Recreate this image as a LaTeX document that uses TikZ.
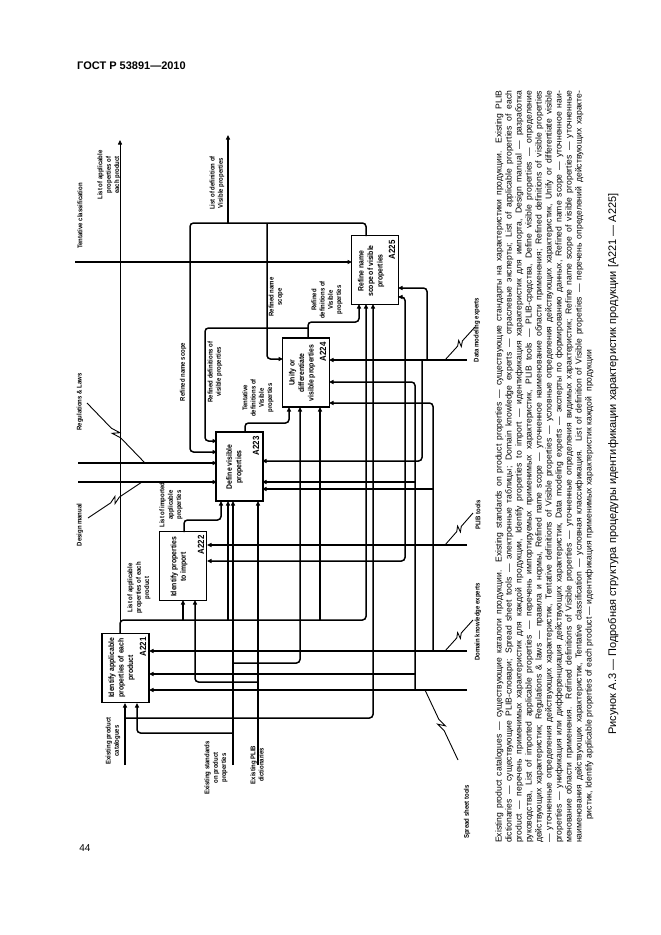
\documentclass[tikz,border=0pt]{standalone}
\usepackage{fontspec}
\setmainfont{Liberation Sans}
\newfontfamily\lblfont[FakeStretch=0.88]{Liberation Sans}
\usetikzlibrary{arrows.meta,calc}
\newcommand{\lgline}[1]{\makebox[752pt][s]{#1}}
\newcommand{\sqgl}[2]{\draw[conn] (#1) -- ($(#1)!0.42!(#2)$) -- ($(#1)!0.53!(#2)!3pt!90:(#2)$) -- ($(#1)!0.47!(#2)!3pt!-90:(#2)$) -- ($(#1)!0.58!(#2)$) -- (#2);}
\begin{document}
\begin{tikzpicture}[x=1pt,y=-1pt,
  flow/.style={line width=1.5pt, rounded corners=3.5pt},
  arr/.style={flow, -{Triangle[length=4.5pt,width=4pt]}},
  thinarr/.style={line width=0.8pt, -{Triangle[length=4.5pt,width=4pt]}},
  conn/.style={line width=0.9pt},
  fbox/.style={draw, line width=1.1pt, minimum width=47pt, minimum height=69pt, inner sep=0pt},
  btext/.style={rotate=90, align=center, inner sep=0pt, font=\lblfont\bfseries\fontsize{7.8}{9.5}\selectfont},
  bnum/.style={rotate=90, inner sep=0pt, font=\lblfont\bfseries\fontsize{9}{10}\selectfont},
  alabel/.style={rotate=90, align=center, inner sep=0pt, font=\lblfont\bfseries\fontsize{6.8}{8.3}\selectfont},
  legend/.style={rotate=90, anchor=base west, inner sep=0pt, font=\fontsize{8.6}{10}\selectfont},
]
\useasboundingbox (0,0) rectangle (661,935);
\fill[white] (0,0) rectangle (661,935);

% header and page number
\node[anchor=west, inner sep=0, font=\bfseries\fontsize{11}{12}\selectfont] (hdr) at (77,66) {ГОСТ Р 53891—2010};
\node[inner sep=0, font=\fontsize{10}{12}\selectfont] (pgno) at (85,848) {44};

% boxes
\node[fbox] (A221) at (125.5,668) {};
\node[btext] (t221) at (121.5,668) {Identify applicable\\properties of each\\product};
\node[bnum] (n221) at (143,647) {A221};
\node[fbox] (A222) at (183,566) {};
\node[btext] (t222) at (179,567) {Identify properties\\to import};
\node[bnum] (n222) at (201,545) {A222};
\node[fbox] (A223) at (239.5,466.5) {};
\node[btext] (t223) at (234.5,467) {Define visible\\properties};
\node[bnum] (n223) at (256,446) {A223};
\node[fbox] (A224) at (306,372.5) {};
\node[btext] (t224) at (302,373) {Unify or\\differentiate\\visible properties};
\node[bnum] (n224) at (323,352) {A224};
\node[fbox] (A225) at (375,270) {};
\node[btext] (t225) at (371,271) {Refine name\\scope of visible\\properties};
\node[bnum] (n225) at (392,250) {A225};

% outputs between boxes
\draw[arr] (120,633) -- (120,620) -- (366,620) -- (366,304);
\draw[arr] (183,620) -- (183,600);
\draw[arr] (228,620) -- (228,501);
\draw[arr] (320,620) -- (320,407);
\draw[thinarr] (120,622) -- (120,140);
\draw[arr] (184,532) -- (184,520) -- (221,520) -- (221,501);
\draw[arr] (245,432) -- (245,423) -- (289,423) -- (289,407);
\draw[arr] (308,338) -- (308,322) -- (359,322) -- (359,304);
\draw[arr] (308,328) -- (205,328) -- (205,441) -- (217,441);
\draw[arr] (366,236) -- (366,223) -- (190,223) -- (190,452) -- (217,452);
\draw[arr] (267,223) -- (267,359) -- (283,359);
\draw[arr] (228,224) -- (228,135);

% controls
\draw[arr] (75,262) -- (352,262);
\draw[arr] (78,463) -- (217,463);
\draw[arr] (78,482) -- (217,482);

% inputs
\draw[arr] (125,765) -- (125,703);
\draw[arr] (125,718) -- (373,718) -- (373,304);
\draw[arr] (233,765) -- (233,501);
\draw[arr] (233,733) -- (137,733) -- (137,703);
\draw[arr] (233,663) -- (300,663) -- (300,407);
\draw[arr] (258,765) -- (258,501);
\draw[arr] (258,682) -- (195,682) -- (195,600);

% mechanisms
\draw[arr] (467,360) -- (329,360);
\draw[arr] (427,360) -- (427,288) -- (398,288);
\draw[arr] (422,360) -- (422,461) -- (262,461);
\draw[arr] (467,545) -- (207,545);
\draw[flow, {Triangle[length=4.5pt,width=4pt]}-{Triangle[length=4.5pt,width=4pt]}] (398,297) -- (405,297) -- (405,561) -- (207,561);
\draw[arr] (467,651) -- (149,651);
\draw[arr] (433,651) -- (433,403) -- (329,403);
\draw[arr] (433,489) -- (262,489);
\draw[arr] (467,690) -- (149,690);
\draw[arr] (415,690) -- (415,382) -- (329,382);
\draw[arr] (415,674) -- (149,674);
\draw[arr] (415,482) -- (262,482);

% label connectors
\sqgl{87,403}{145,463}
\sqgl{88,518}{142,482}
\sqgl{475,327}{445,360}
\sqgl{473,513}{445,545}
\sqgl{473,620}{445,651}
\sqgl{425,690}{458,760}

% arrow labels
\node[alabel] (lcat) at (113,741) {Existing product\\catalogues};
\node[alabel] (lstd) at (216,768) {Existing standards\\on product\\properties};
\node[alabel] (ldic) at (257,765) {Existing PLIB\\dictionaries};
\node[alabel] (lapp) at (139,588) {List of applicable\\properties of each\\product};
\node[alabel] (limp) at (171,505) {List of imported\\applicable\\properties};
\node[alabel] (ltent) at (258,398) {Tentative\\definitions of\\Visible\\properties};
\node[alabel] (lref) at (327,300) {Refined\\definitions of\\Visible\\properties};
\node[alabel] (lrns) at (276,297) {Refined name\\scope};
\node[alabel] (lrns2) at (183,372) {Refined name scope};
\node[alabel] (lrdv) at (215,372) {Refined definitions of\\visible properties};
\node[alabel] (ltc) at (80,216) {Tentative classification};
\node[alabel] (lapt) at (109,175) {List of applicable\\properties of\\each product};
\node[alabel] (ldef) at (217,183) {List of definition of\\Visible properties};
\node[alabel] (lreg) at (80,402) {Regulations \& Laws};
\node[alabel] (ldm) at (80,525) {Design manual};
\node[alabel] (lplib) at (478,515) {PLIB tools};
\node[alabel] (ldke) at (478,622) {Domain knowledge experts};
\node[alabel] (ldme) at (477,330) {Data modeling experts};
\node[alabel] (lsst) at (467,812) {Spread sheet tools};

% legend
\node[legend] (lg1) at (501.5,843) {\lgline{Existing product catalogues — существующие каталоги продукции. Existing standards on product properties — существующие стандарты на характеристики продукции. Existing PLIB}};
\node[legend] (lg2) at (511.5,843) {\lgline{dictionaries — существующие PLIB-словари; Spread sheet tools — электронные таблицы; Domain knowledge experts — отраслевые эксперты; List of applicable properties of each}};
\node[legend] (lg3) at (521.5,843) {\lgline{product — перечень применимых характеристик для каждой продукции, Identify properties to import — идентификация характеристик для импорта, Design manual — разработка}};
\node[legend] (lg4) at (531.5,843) {\lgline{руководства, List of imported applicable properties — перечень импортируемых применимых характеристик, PLIB tools — PLIB-средства, Define visible properties — определение}};
\node[legend] (lg5) at (541.5,843) {\lgline{действующих характеристик; Regulations \& laws — правила и нормы, Refined name scope — уточненное наименование области применения; Refined definitions of visible properties}};
\node[legend] (lg6) at (551.5,843) {\lgline{— уточненные определения действующих характеристик, Tentative definitions of Visible properties — условные определения действующих характеристик, Unify or differentiate visible}};
\node[legend] (lg7) at (561.5,843) {\lgline{properties — унификация или дифференциация действующих характеристик, Data modeling experts — эксперты по формированию данных, Refined name scope — уточненное наи-}};
\node[legend] (lg8) at (571.5,843) {\lgline{менование области применения. Refined definitions of Visible properties — уточненные определения видимых характеристик; Refine name scope of visible properties — уточненные}};
\node[legend] (lg9) at (581.5,843) {\lgline{наименования действующих характеристик, Tentative classification — условная классификация. List of definition of Visible properties — перечень определений действующих характе-}};
\node[legend] (lg10) at (591.5,820) {ристик, Identify applicable properties of each product — идентификация применимых характеристик каждой\ \ продукции};
\node[legend, font=\fontsize{11}{12}\selectfont] (cap) at (616,735) {Рисунок А.3 — Подробная структура процедуры идентификации характеристик продукции [A221 — A225]};
\end{tikzpicture}
\end{document}
